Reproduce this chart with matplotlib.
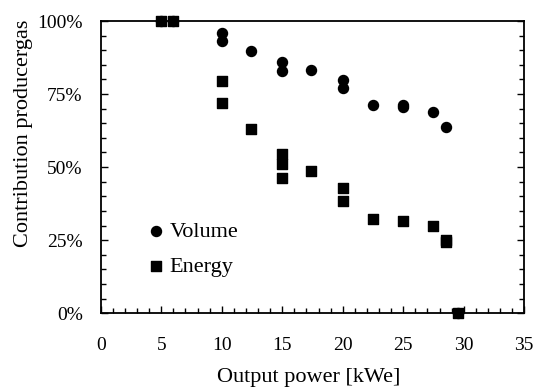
import numpy as np
import matplotlib
matplotlib.use("Agg")
import matplotlib.pyplot as plt
from matplotlib.ticker import MultipleLocator, PercentFormatter

plt.rcParams['font.family'] = ['Liberation Serif', 'DejaVu Serif']

# output power [kWe] and contribution of producer gas [%]
vol_x = [5, 6, 10, 10, 12.4, 15, 15, 17.4, 20, 20, 22.5, 25, 25, 27.5, 28.5, 29.5]
vol_y = [100, 100, 95.8, 93.0, 89.6, 86.0, 83.0, 83.1, 79.7, 77.1, 71.1, 71.2, 70.6, 68.7, 63.6, 0]

en_x = [5, 6, 10, 10, 12.4, 15, 15, 15, 17.4, 20, 20, 22.5, 25, 27.5, 28.5, 28.5, 29.5]
en_y = [100, 100, 79.6, 71.8, 62.9, 54.5, 51.0, 46.2, 48.7, 42.7, 38.5, 32.1, 31.5, 29.7, 25.0, 24.4, 0]

fig = plt.figure(figsize=(5.36, 3.89), dpi=100)
ax = fig.add_axes([0.188, 0.195, 0.79, 0.751])

ax.scatter(vol_x, vol_y, marker='o', s=52, color='black', label='Volume', clip_on=False, zorder=3)
ax.scatter(en_x, en_y, marker='s', s=50, color='black', label='Energy', clip_on=False, zorder=3)

ax.set_xlim(0, 35)
ax.set_ylim(0, 100)
ax.xaxis.set_major_locator(MultipleLocator(5))
ax.xaxis.set_minor_locator(MultipleLocator(1))
ax.yaxis.set_major_locator(MultipleLocator(25))
ax.yaxis.set_minor_locator(MultipleLocator(5))
ax.yaxis.set_major_formatter(PercentFormatter(decimals=0))

ax.tick_params(axis='x', which='both', direction='in', top=False, bottom=True, labelsize=14, pad=17)
ax.tick_params(axis='y', which='both', direction='in', left=True, right=True, labelsize=14, pad=13)
ax.tick_params(which='major', length=5, width=1)
ax.tick_params(which='minor', length=3.5, width=1)
for sp in ax.spines.values():
    sp.set_linewidth(1.3)

ax.set_xlabel('Output power [kWe]', fontsize=16)
ax.set_ylabel('Contribution producergas', fontsize=16)
ax.yaxis.set_label_coords(-0.16, 0.614)
ax.xaxis.set_label_coords(0.49, -0.188)

ax.legend(frameon=False, loc='center left', bbox_to_anchor=(0.112, 0.219), fontsize=16,
          handlelength=0.7, handletextpad=0.25, labelspacing=0.65, borderaxespad=0,
          borderpad=0)

fig.savefig('out.png', dpi=100)
